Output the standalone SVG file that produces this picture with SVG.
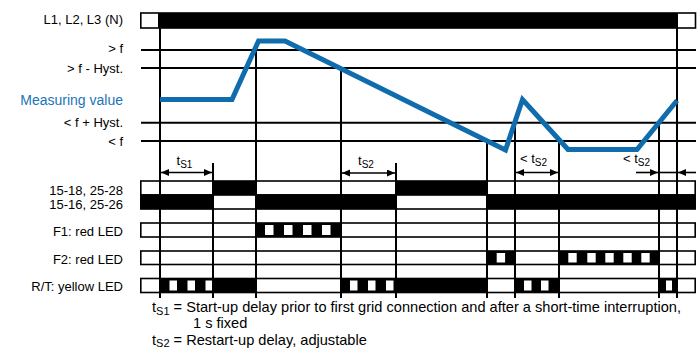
<svg xmlns="http://www.w3.org/2000/svg" width="697" height="348" viewBox="0 0 697 348">
<style>
text{font-family:"Liberation Sans",Arial,sans-serif;fill:#000}
.lbl{font-size:13px;text-anchor:end}
.hl{stroke:#000;stroke-width:2;fill:none}
.vl{stroke:#000;stroke-width:2;fill:none}
.row{fill:#fff;stroke:#000;stroke-width:1.6}
.blk{fill:#000}
.wsq{fill:#fff}
.arr{stroke:#000;stroke-width:1.6;fill:none}
.curve{stroke:#0f6cad;stroke-width:5;fill:none;stroke-linejoin:miter}
.leg{font-size:14.6px}
</style>
<defs>
<marker id="ah" markerUnits="userSpaceOnUse" markerWidth="9" markerHeight="8" refX="8" refY="3.5" orient="auto-start-reverse">
<path d="M0,0 L8,3.5 L0,7 z" fill="#000"/>
</marker>
</defs>

<g id="labels">
<text class="lbl" x="123" y="23.5">L1, L2, L3 (N)</text>
<text class="lbl" x="123" y="52.5">&gt; f</text>
<text class="lbl" x="123" y="72.5">&gt; f - Hyst.</text>
<text class="lbl" x="123" y="105" style="fill:#1a74b8;font-size:14px">Measuring value</text>
<text class="lbl" x="123" y="127">&lt; f + Hyst.</text>
<text class="lbl" x="123" y="145.5">&lt; f</text>
<text class="lbl" x="123" y="194.5">15-18, 25-28</text>
<text class="lbl" x="123" y="208.5">15-16, 25-26</text>
<text class="lbl" x="123" y="236">F1: red LED</text>
<text class="lbl" x="123" y="263.5">F2: red LED</text>
<text class="lbl" x="123" y="291">R/T: yellow LED</text>
</g>

<g id="supply-bar">
<rect class="row" x="140.8" y="13" width="554.7" height="15"/>
<rect class="blk" x="158" y="13" width="520" height="15"/>
</g>

<g id="thresholds">
<line class="hl" x1="141" y1="50" x2="696" y2="50"/>
<line class="hl" x1="141" y1="68" x2="696" y2="68"/>
<line class="hl" x1="141" y1="122.7" x2="696" y2="122.7"/>
<line class="hl" x1="141" y1="141" x2="696" y2="141"/>
</g>

<g id="row-15-18">
<rect class="row" x="140.8" y="181" width="554.4" height="14"/>
<rect class="blk" x="213" y="181" width="43" height="14"/>
<rect class="blk" x="396" y="181" width="91" height="14"/>
</g>
<g id="row-15-16">
<rect class="row" x="140.8" y="195" width="554.4" height="14"/>
<rect class="blk" x="140" y="195" width="73" height="14"/>
<rect class="blk" x="256" y="195" width="140" height="14"/>
<rect class="blk" x="487" y="195" width="209" height="14"/>
</g>
<g id="row-f1">
<rect class="row" x="140.8" y="223" width="554.4" height="14"/>
<rect class="blk" x="256" y="223" width="85" height="14"/>
<rect class="wsq" x="265" y="225" width="8.5" height="10"/>
<rect class="wsq" x="284" y="225" width="8.5" height="10"/>
<rect class="wsq" x="303" y="225" width="8.5" height="10"/>
<rect class="wsq" x="322" y="225" width="8.5" height="10"/>
</g>
<g id="row-f2">
<rect class="row" x="140.8" y="251" width="554.4" height="13.5"/>
<rect class="blk" x="487" y="251" width="28" height="13.5"/>
<rect class="wsq" x="496.7" y="253" width="8.4" height="9.5"/>
<rect class="blk" x="559" y="251" width="100" height="13.5"/>
<rect class="wsq" x="568.3" y="253" width="8.4" height="9.5"/>
<rect class="wsq" x="587.3" y="253" width="8.4" height="9.5"/>
<rect class="wsq" x="605.3" y="253" width="8.4" height="9.5"/>
<rect class="wsq" x="623.3" y="253" width="8.4" height="9.5"/>
<rect class="wsq" x="641.3" y="253" width="8.4" height="9.5"/>
</g>
<g id="row-rt">
<rect class="row" x="140.8" y="278.5" width="554.4" height="14"/>
<rect class="blk" x="160" y="278.5" width="96" height="14"/>
<rect class="wsq" x="169.5" y="280.5" width="7.5" height="10"/>
<rect class="wsq" x="187.5" y="280.5" width="7.5" height="10"/>
<rect class="wsq" x="205.5" y="280.5" width="7" height="10"/>
<rect class="blk" x="341" y="278.5" width="146" height="14"/>
<rect class="wsq" x="350" y="280.5" width="7.5" height="10"/>
<rect class="wsq" x="368" y="280.5" width="7.5" height="10"/>
<rect class="wsq" x="386" y="280.5" width="7.5" height="10"/>
<rect class="blk" x="515" y="278.5" width="44" height="14"/>
<rect class="wsq" x="524" y="280.5" width="7.5" height="10"/>
<rect class="wsq" x="541" y="280.5" width="7.5" height="10"/>
<rect class="blk" x="659" y="278.5" width="18" height="14"/>
<rect class="wsq" x="666" y="280.5" width="6" height="10"/>
</g>

<g id="connectors">
<line class="vl" x1="160" y1="28" x2="160" y2="298"/>
<line class="vl" x1="213" y1="163" x2="213" y2="298"/>
<line class="vl" x1="256" y1="50" x2="256" y2="298"/>
<line class="vl" x1="341" y1="68" x2="341" y2="298"/>
<line class="vl" x1="396" y1="163" x2="396" y2="298"/>
<line class="vl" x1="487" y1="141" x2="487" y2="298"/>
<line class="vl" x1="515" y1="122.7" x2="515" y2="298"/>
<line class="vl" x1="559" y1="141" x2="559" y2="298"/>
<line class="vl" x1="659" y1="122.7" x2="659" y2="298"/>
<line class="vl" x1="677" y1="28" x2="677" y2="298"/>
<line class="arr" x1="161" y1="172.5" x2="212" y2="172.5" marker-start="url(#ah)" marker-end="url(#ah)"/>
<line class="arr" x1="342" y1="173" x2="395" y2="173" marker-start="url(#ah)" marker-end="url(#ah)"/>
<line class="arr" x1="516" y1="172.5" x2="558" y2="172.5" marker-start="url(#ah)" marker-end="url(#ah)"/>
<line class="arr" x1="636" y1="172.5" x2="658" y2="172.5" marker-end="url(#ah)"/>
<line class="arr" x1="658" y1="172.5" x2="678" y2="172.5"/>
<line class="arr" x1="696" y1="172.5" x2="678" y2="172.5" marker-end="url(#ah)"/>
</g>

<g id="time-labels" style="font-size:13px">
<text x="176.5" y="165">t<tspan font-size="10" dy="3">S1</tspan></text>
<text x="358" y="165">t<tspan font-size="10" dy="3">S2</tspan></text>
<text x="520" y="163">&lt; t<tspan font-size="10" dy="3">S2</tspan></text>
<text x="623" y="163">&lt; t<tspan font-size="10" dy="3">S2</tspan></text>
</g>

<g id="measuring-value">
<polyline class="curve" points="160,99.5 232,99.5 258.5,41 285,41 505.5,150 522.5,99.5 568,149.5 637,149.5 677,100.5"/>
</g>

<g id="legend">
<text class="leg" x="152" y="311.5">t<tspan font-size="11" dy="3">S1</tspan><tspan dy="-3"> = Start-up delay prior to first grid connection and after a short-time interruption,</tspan></text>
<text class="leg" x="193" y="327.5">1 s fixed</text>
<text class="leg" x="152" y="344.5">t<tspan font-size="11" dy="2">S2</tspan><tspan dy="-2"> = Restart-up delay, adjustable</tspan></text>
</g>
</svg>
